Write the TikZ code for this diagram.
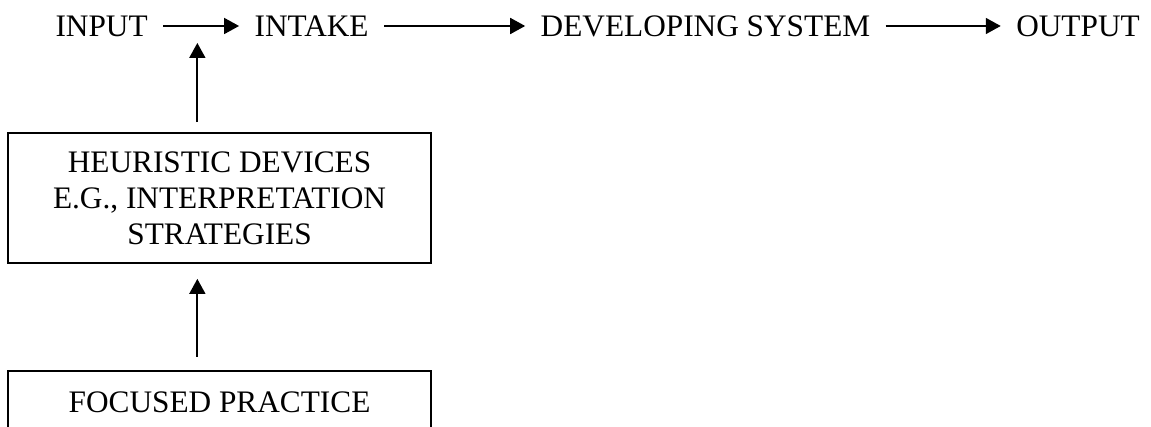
\documentclass[tikz,border=0pt]{standalone}
\usepackage{fontspec}
\setmainfont{Liberation Serif}
\usetikzlibrary{positioning, arrows.meta}
\tikzstyle{word} = [inner xsep=5.75pt, inner ysep=0pt, text height=8pt, text depth=0pt, font=\fontsize{12}{13.8}\selectfont]
\tikzstyle{frame} = [rectangle, draw, line width=0.77pt, align=center, minimum width=162.2pt, font=\fontsize{12}{13.8}\selectfont]
\tikzstyle{line} = [draw, line width=0.77pt, -{Triangle[length=5.75pt, width=6.1pt]}]

\begin{document}
\begin{tikzpicture}[x=0.3834pt, y=0.3834pt]
    \useasboundingbox (0,0) rectangle (1151,-427);
    \node[word, anchor=west](input) at (40,-26){INPUT};
    \node[word, right=29.1pt of input](intake){INTAKE};
    \node[word, right=54.1pt of intake](developing){DEVELOPING SYSTEM};
    \node[word, right=44.1pt of developing](output){OUTPUT};
    \node[frame, minimum height=49.8pt, anchor=north west](heuristic) at (7,-132){HEURISTIC DEVICES\\E.G., INTERPRETATION\\STRATEGIES};
    \node[frame, minimum height=23.8pt, below=40.6pt of heuristic](focused){FOCUSED PRACTICE};

    \path[line] (input) -- coordinate[pos=0.45](join) (intake);
    \path[line] (intake) -- (developing);
    \path[line] (developing) -- (output);
    \path[line, shorten <=3.8pt, shorten >=6.5pt] (heuristic.north -| join) -- (join);
    \path[line, shorten <=5pt, shorten >=5.75pt] (focused.north -| join) -- (heuristic.south -| join);
\end{tikzpicture}
\end{document}
